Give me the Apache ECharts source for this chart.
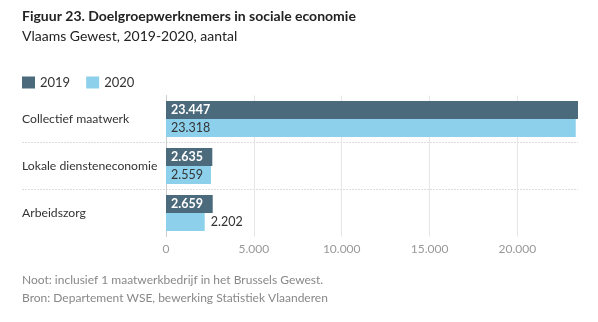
<!DOCTYPE html>
<html><head><meta charset="utf-8">
<script src="https://cdn.jsdelivr.net/npm/echarts@6/dist/echarts.min.js"></script>
<style>html,body{margin:0;padding:0;background:#fff}#c{width:598px;height:322px}</style>
</head><body><div id="c"></div>
<script>
var categories = ['Collectief maatwerk', 'Lokale diensteneconomie', 'Arbeidszorg'];
var values2019 = [23447, 2635, 2659];
var values2020 = [23318, 2559, 2202];
var seriesNames = ['2019', '2020'];
var xTickStep = 5000;

var FONT = 'Lato, "Noto Sans", sans-serif';
function fmt(v) { return String(Math.round(v)).replace(/\B(?=(\d{3})+(?!\d))/g, '.'); }

var chart = echarts.init(document.getElementById('c'), null, {renderer: 'canvas'});
var gridTop = 95.5, gridBottom = 85.5;

function makeData(vals) {
  return vals.map(function (v) {
    // labels that would not fit inside the bar go outside on the right
    if (v < 2400) {
      return {value: v, label: {position: 'right', color: '#333', fontWeight: 'normal', distance: 6}};
    }
    return v;
  });
}

chart.setOption({
  animation: false,
  textStyle: {fontFamily: FONT},
  title: [
    {text: 'Figuur 23. Doelgroepwerknemers in sociale economie',
     subtext: 'Vlaams Gewest, 2019-2020, aantal',
     left: 17, top: 4, itemGap: 6,
     textStyle: {fontFamily: FONT, fontSize: 14, fontWeight: 'bold', color: '#222'},
     subtextStyle: {fontFamily: FONT, fontSize: 14, color: '#222'}},
    {text: 'Noot: inclusief 1 maatwerkbedrijf in het Brussels Gewest.',
     subtext: 'Bron: Departement WSE, bewerking Statistiek Vlaanderen',
     left: 17, top: 269, itemGap: 6,
     textStyle: {fontFamily: FONT, fontSize: 12, fontWeight: 'normal', color: '#888'},
     subtextStyle: {fontFamily: FONT, fontSize: 12, color: '#888'}}
  ],
  legend: {
    data: seriesNames, left: 17, top: 71, itemWidth: 13, itemHeight: 12, itemGap: 16,
    icon: 'rect', textStyle: {fontFamily: FONT, fontSize: 13, color: '#333'}
  },
  grid: [
    {left: 166, right: 20, top: gridTop, bottom: gridBottom},
    {left: 22, right: 20, top: gridTop, bottom: gridBottom}
  ],
  xAxis: [
    {type: 'value', gridIndex: 0, min: 0, max: 'dataMax', interval: xTickStep,
     axisLine: {show: false}, axisTick: {show: false},
     axisLabel: {showMaxLabel: false, color: '#999', fontSize: 12, fontFamily: FONT, margin: 7, formatter: fmt},
     splitLine: {show: true, showMinLine: false, showMaxLine: false, lineStyle: {color: '#e6e6e6', width: 1}}},
    {type: 'value', gridIndex: 1, show: false, min: 0, max: 1}
  ],
  yAxis: [
    {type: 'category', gridIndex: 0, data: categories, inverse: true,
     axisLine: {show: true, lineStyle: {color: '#cccccc'}}, axisTick: {show: false},
     axisLabel: {align: 'left', margin: 144, color: '#333', fontSize: 12.2, fontFamily: FONT},
     splitLine: {show: false}},
    {type: 'category', gridIndex: 1, data: categories, inverse: true,
     axisLine: {show: false}, axisTick: {show: false}, axisLabel: {show: false},
     splitLine: {show: true, showMinLine: false, showMaxLine: false,
       lineStyle: {color: '#dddddd', type: [2, 1], width: 1}}}
  ],
  series: [
    {name: seriesNames[0], type: 'bar', xAxisIndex: 0, yAxisIndex: 0,
     data: makeData(values2019), barGap: '0%', barCategoryGap: '23%',
     itemStyle: {color: '#4b6a7b'},
     label: {show: true, position: 'insideLeft', distance: 5, color: '#fff', fontWeight: 'bold',
       fontSize: 12.5, fontFamily: FONT, formatter: function (p) { return fmt(p.value); }}},
    {name: seriesNames[1], type: 'bar', xAxisIndex: 0, yAxisIndex: 0,
     data: makeData(values2020), barGap: '0%', barCategoryGap: '23%',
     itemStyle: {color: '#8dd0eb'},
     label: {show: true, position: 'insideLeft', distance: 5, color: '#333', fontWeight: 'normal',
       fontSize: 12.5, fontFamily: FONT, formatter: function (p) { return fmt(p.value); }}}
  ]
});
</script></body></html>
